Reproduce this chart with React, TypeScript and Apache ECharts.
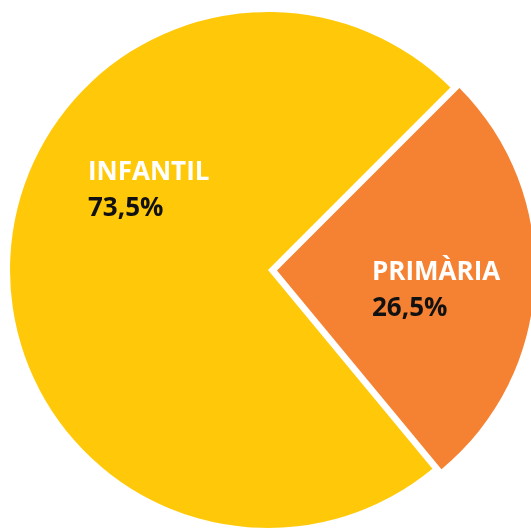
import React, { useEffect, useRef } from "react";
import * as echarts from "echarts";

const categories = ["PRIMÀRIA", "INFANTIL"];
const values = [26.5, 73.5];
const colors = ["#F58233", "#FFC90A"];

const labelPos = [
  { x: 363, y: 257 },
  { x: 88, y: 157 },
];

export default function App() {
  const ref = useRef<HTMLDivElement>(null);
  useEffect(() => {
    const chart = echarts.init(ref.current!, undefined, { renderer: "svg" });
    chart.setOption({
      animation: false,
      series: [
        {
          type: "pie",
          center: [268, 270],
          radius: [0, 258],
          startAngle: 45,
          clockwise: true,
          selectedMode: "single",
          selectedOffset: 9,
          emphasis: { disabled: true },
          itemStyle: { borderWidth: 0 },
          labelLine: { show: false },
          label: {
            show: true,
            position: "inside",
            align: "left",
            formatter: (p: any) =>
              `{n|${p.name}}\n{v|${p.value.toFixed(1).replace(".", ",")}%}`,
            rich: {
              n: {
                fontFamily: "Open Sans",
                fontWeight: "bold",
                fontSize: 26,
                color: "#ffffff",
                lineHeight: 36,
                align: "left",
              },
              v: {
                fontFamily: "Open Sans",
                fontWeight: "bold",
                fontSize: 26,
                color: "#111111",
                lineHeight: 36,
                align: "left",
              },
            },
          },
          labelLayout: (params: any) => ({
            dx: labelPos[params.dataIndex].x - params.labelRect.x,
            dy: labelPos[params.dataIndex].y - params.labelRect.y,
          }),
          data: categories.map((c, i) => ({
            name: c,
            value: values[i],
            selected: i === 0,
            itemStyle: { color: colors[i] },
          })),
        },
      ],
    });
    return () => chart.dispose();
  }, []);
  return (
    <div
      ref={ref}
      style={{ position: "fixed", left: 0, top: 0, width: 531, height: 530 }}
    />
  );
}
